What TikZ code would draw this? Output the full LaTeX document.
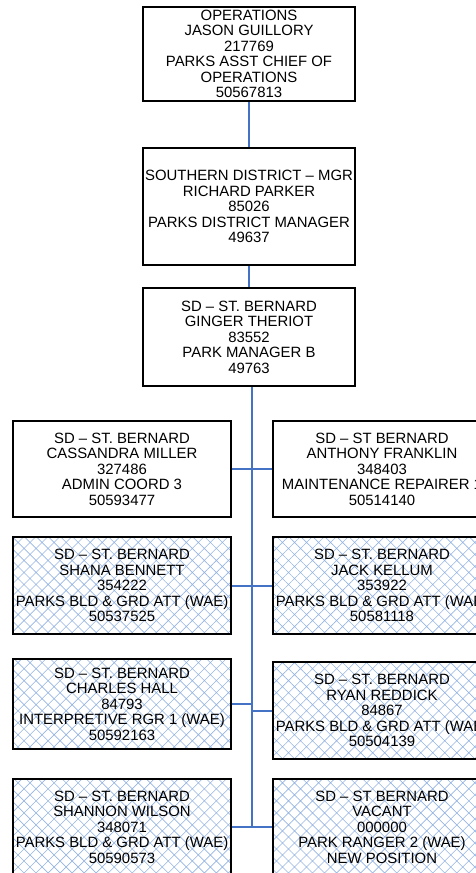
\documentclass[tikz,border=0pt]{standalone}
\usepackage{fontspec}
\setmainfont{Liberation Sans}
\usetikzlibrary{patterns.meta,positioning}
\definecolor{linkblue}{RGB}{68,114,196}
\definecolor{hatchblue}{RGB}{150,180,226}
\tikzstyle{every node}+=[align=center,inner sep=0pt,font=\fontsize{14.9}{15.5}\selectfont]
\tikzstyle{post}=[draw,line width=1.3pt,minimum width=212pt]
\tikzstyle{staff}=[draw,line width=1.3pt,minimum width=218pt,minimum height=96pt]
\tikzstyle{wae}=[staff,pattern={Hatch[angle=45,distance=8.5pt,line width=0.6pt]},pattern color=hatchblue]
\tikzstyle{link}=[linkblue,line width=2pt]
\newcommand{\hookspine}[1]{
	\foreach \a/\b in {#1}{
		\draw[link] (\a.\b) -- (\a.\b -| spine);
	}
}

\begin{document}
\begin{tikzpicture}[x=1pt,y=-1pt]
	\clip (0,0) rectangle (476,873);
	\node[post,minimum height=94pt] (ops) at (249,54) {OPERATIONS\\JASON GUILLORY\\217769\\PARKS ASST CHIEF OF\\OPERATIONS\\50567813};
	\node[post,minimum height=117pt] (sdm) at (249,206.5) {SOUTHERN DISTRICT -- MGR\\RICHARD PARKER\\85026\\PARKS DISTRICT MANAGER\\49637};
	\node[post,minimum height=98pt] (pmb) at (249,337) {SD -- ST. BERNARD\\GINGER THERIOT\\83552\\PARK MANAGER B\\49763};
	\coordinate (spine) at (252,827);
	% staff rows
	\node[staff] (cm) at (122,469) {SD -- ST. BERNARD\\CASSANDRA MILLER\\327486\\ADMIN COORD 3\\50593477};
	\node[staff] (af) at (382,469) {SD -- ST BERNARD\\ANTHONY FRANKLIN\\348403\\MAINTENANCE REPAIRER 1\\50514140};
	\node[wae,line width=2.3pt,minimum height=97pt] (sb) at (122,585.5) {SD -- ST. BERNARD\\SHANA BENNETT\\354222\\PARKS BLD \& GRD ATT (WAE)\\50537525};
	\node[wae,line width=2.3pt,minimum height=97pt] (jk) at (382,585.5) {SD -- ST. BERNARD\\JACK KELLUM\\353922\\PARKS BLD \& GRD ATT (WAE)\\50581118};
	\node[wae,minimum height=90pt] (ch) at (122,704) {SD -- ST. BERNARD\\CHARLES HALL\\84793\\INTERPRETIVE RGR 1 (WAE)\\50592163};
	\node[wae,minimum height=97pt] (rr) at (382,710.5) {SD -- ST. BERNARD\\RYAN REDDICK\\84867\\PARKS BLD \& GRD ATT (WAE)\\50504139};
	\node[wae] (sw) at (122,827) {SD -- ST. BERNARD\\SHANNON WILSON\\348071\\PARKS BLD \& GRD ATT (WAE)\\50590573};
	\node[wae] (vac) at (382,827) {SD -- ST BERNARD\\VACANT\\000000\\PARK RANGER 2 (WAE)\\NEW POSITION};
	\draw[link] (ops) -- (sdm);
	\draw[link] (sdm) -- (pmb);
	\draw[link] (pmb.south -| spine) -- (spine);
	\hookspine{cm/east,af/west,sb/east,jk/west,ch/east,rr/west,sw/east,vac/west}
\end{tikzpicture}
\end{document}
